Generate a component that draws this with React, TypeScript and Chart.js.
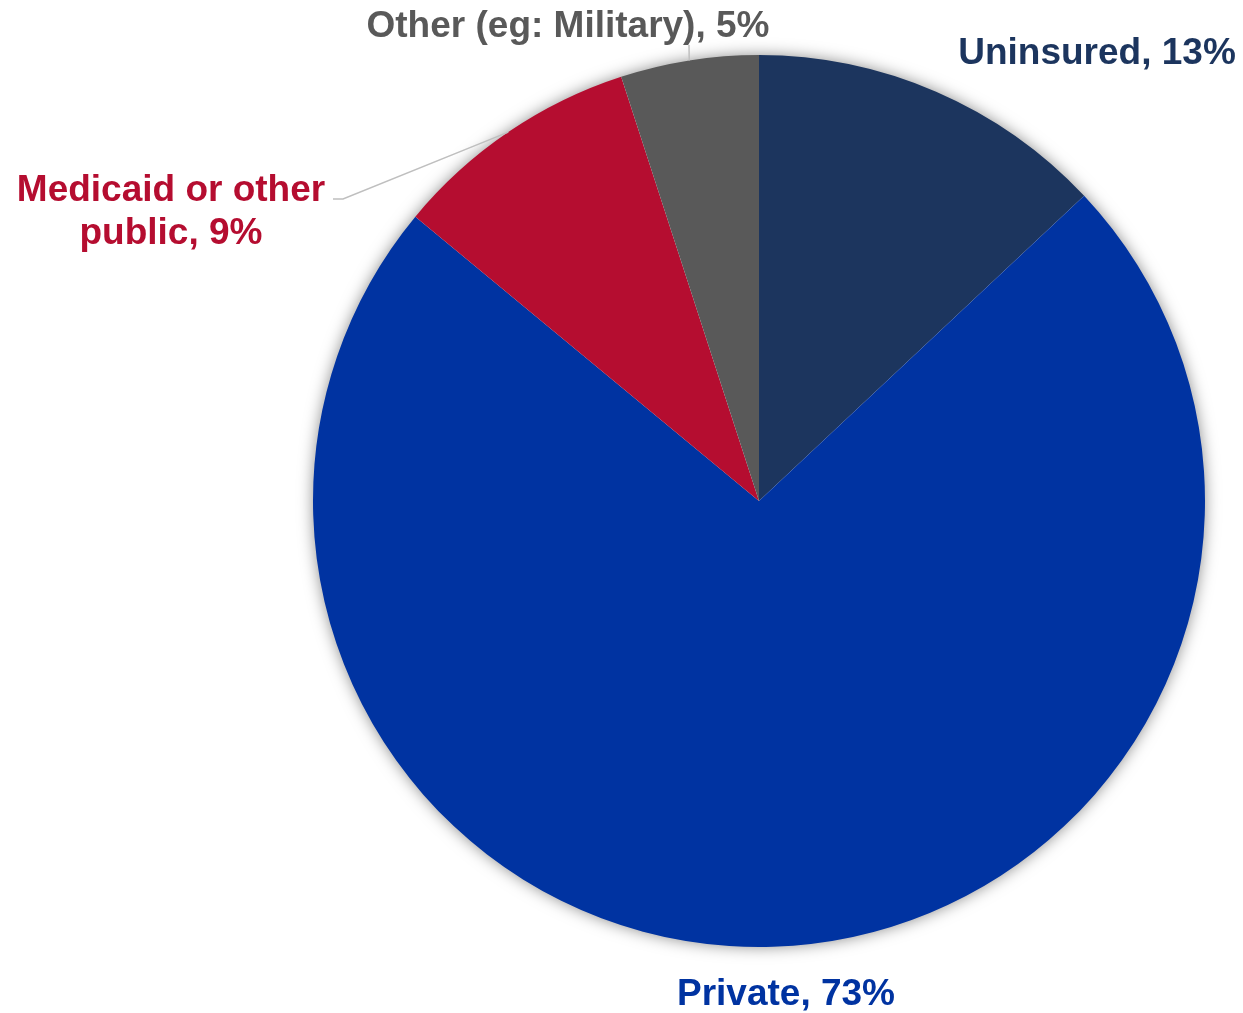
import React, { useEffect, useRef } from "react";
import { Chart, registerables } from "chart.js";

Chart.register(...registerables);

const categories = ["Uninsured", "Private", "Medicaid or other public", "Other (eg: Military)"];
const values = [13, 73, 9, 5];
const sliceColors = ["#1C355E", "#0033A1", "#B50D30", "#595959"];
const labelLines = [
  ["Uninsured, 13%"],
  ["Private, 73%"],
  ["Medicaid or other", "public, 9%"],
  ["Other (eg: Military), 5%"],
];

// label layout (text centre, pixel offsets from pie centre), leader line flag
const labelLayout = [
  { dx: 338, dy: -447, leader: false, elbow: null as null | number[] },
  { dx: 27, dy: 494, leader: false, elbow: null },
  { dx: -588, dy: -289, leader: true, elbow: [-426, -302, -416, -302] },
  { dx: -191, dy: -474, leader: true, elbow: [-70, -456] },
];

const FONT = "bold 37px 'Liberation Sans', Arial, sans-serif";
const LINE_H = 43;

const shadowPlugin = {
  id: "pieShadow",
  beforeDatasetsDraw(chart: any) {
    const meta = chart.getDatasetMeta(0);
    const arc = meta.data[0];
    if (!arc) return;
    const { x, y, outerRadius } = arc.getProps(["x", "y", "outerRadius"], true);
    const ctx = chart.ctx;
    ctx.save();
    ctx.beginPath();
    ctx.arc(x, y, outerRadius - 1, 0, Math.PI * 2);
    ctx.shadowColor = "rgba(0,0,0,0.5)";
    ctx.shadowBlur = 16;
    ctx.fillStyle = "#ffffff";
    ctx.fill();
    ctx.restore();
  },
};

const labelPlugin = {
  id: "pieLabels",
  afterDatasetsDraw(chart: any) {
    const meta = chart.getDatasetMeta(0);
    const ctx = chart.ctx;
    ctx.save();
    meta.data.forEach((arc: any, i: number) => {
      const p = arc.getProps(["x", "y", "startAngle", "endAngle", "outerRadius"], true);
      const lay = labelLayout[i];
      const cx = p.x + lay.dx;
      const cy = p.y + lay.dy;
      if (lay.leader) {
        const mid = (p.startAngle + p.endAngle) / 2;
        const ex = p.x + Math.cos(mid) * p.outerRadius;
        const ey = p.y + Math.sin(mid) * p.outerRadius;
        ctx.strokeStyle = "#BFBFBF";
        ctx.lineWidth = 1.5;
        ctx.beginPath();
        const el = lay.elbow || [];
        ctx.moveTo(p.x + el[0], p.y + el[1]);
        for (let k = 2; k < el.length; k += 2) ctx.lineTo(p.x + el[k], p.y + el[k + 1]);
        ctx.lineTo(ex, ey);
        ctx.stroke();
      }
      ctx.font = FONT;
      ctx.fillStyle = sliceColors[i];
      ctx.textAlign = "center";
      ctx.textBaseline = "middle";
      const lines = labelLines[i];
      const startY = cy - ((lines.length - 1) * LINE_H) / 2;
      lines.forEach((t, k) => ctx.fillText(t, cx, startY + k * LINE_H));
    });
    ctx.restore();
  },
};

export default function App() {
  const ref = useRef<HTMLCanvasElement>(null);
  useEffect(() => {
    if (!ref.current) return;
    const chart = new Chart(ref.current, {
      type: "pie",
      data: {
        labels: categories,
        datasets: [
          {
            data: values,
            backgroundColor: sliceColors,
            borderWidth: 0,
          },
        ],
      },
      options: {
        responsive: true,
        maintainAspectRatio: false,
        animation: false,
        layout: { padding: { left: 313, right: 38, top: 55, bottom: 66 } },
        plugins: {
          legend: { display: false },
          tooltip: { enabled: false },
        },
      },
      plugins: [shadowPlugin, labelPlugin],
    });
    return () => chart.destroy();
  }, []);
  return (
    <div style={{ position: "fixed", left: 0, top: 0, width: 1243, height: 1013, background: "#fff" }}>
      <canvas ref={ref} />
    </div>
  );
}
